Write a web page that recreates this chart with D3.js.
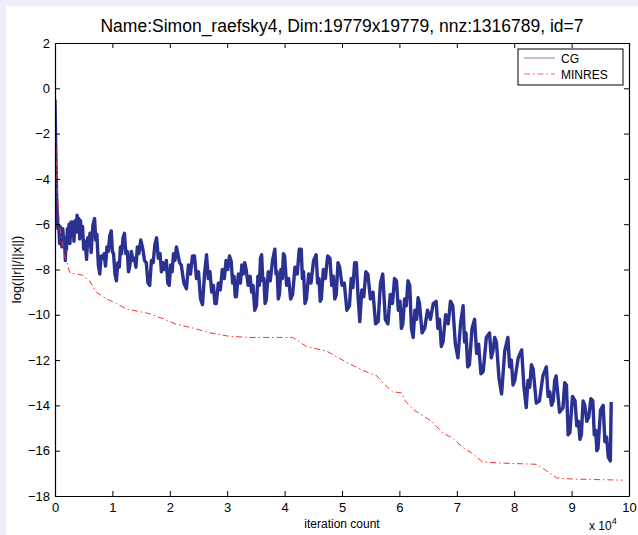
<!DOCTYPE html>
<html>
<head>
<meta charset="utf-8">
<script src="https://cdn.jsdelivr.net/npm/d3@7"></script>
<style>
  body { margin: 0; background: #efeffb; }
  svg text { font-family: "Liberation Sans", Arial, sans-serif; fill: #000; }
</style>
</head>
<body>
<div id="chart"></div>
<script>
// Chart title and axis labels
const chartTitle = "Name:Simon_raefsky4, Dim:19779x19779, nnz:1316789, id=7";
const xLabel = "iteration count";
const yLabel = "log(||r||/||x||)";
const seriesNames = ["CG", "MINRES"];

// Tick values
const xTicks = [0, 1, 2, 3, 4, 5, 6, 7, 8, 9, 10];
const yTicks = [2, 0, -2, -4, -6, -8, -10, -12, -14, -16, -18];

// CG residual: [iteration (thousands), log residual]
const cgResidual = [
  [0, -0.5], [0.15, -3.0], [0.3, -5.0], [0.5, -6.2], [0.65, -6.05], [0.8, -6.85], [0.9, -6.1], [1.0, -6.6],
  [1.1, -6.2], [1.2, -7.0], [1.35, -6.2], [1.5, -6.75], [1.65, -6.6], [1.8, -7.6], [1.9, -6.8], [2.0, -7.1],
  [2.15, -6.2], [2.3, -6.5], [2.45, -6.0], [2.6, -6.85], [2.8, -5.9], [3.0, -6.35], [3.15, -5.9], [3.3, -6.75],
  [3.5, -5.85], [3.7, -6.35], [3.85, -5.6], [4.0, -6.15], [4.15, -5.75], [4.3, -6.65], [4.45, -5.85], [4.6, -6.4],
  [4.8, -6.1], [5.0, -7.1], [5.25, -6.75], [5.5, -7.55], [5.7, -6.6], [5.9, -6.95], [6.1, -6.4], [6.3, -7.25],
  [6.6, -6.05], [6.9, -5.75], [7.1, -6.7], [7.3, -6.45], [7.55, -7.8], [7.8, -8.2], [8.05, -7.4], [8.3, -7.5],
  [8.55, -7.3], [8.8, -7.85], [9.05, -7.0], [9.3, -7.2], [9.55, -6.5], [9.8, -6.3], [10.0, -7.2], [10.2, -7.3],
  [10.45, -8.2], [10.7, -8.5], [10.95, -7.7], [11.2, -7.9], [11.4, -7.0], [11.6, -7.3], [11.85, -6.6], [12.1, -6.4],
  [12.35, -7.3], [12.6, -7.2], [12.8, -8.1], [13.0, -7.9], [13.3, -7.2], [13.6, -7.6], [13.85, -7.5], [14.1, -7.9],
  [14.35, -7.0], [14.6, -7.3], [14.95, -6.7], [15.3, -7.1], [15.6, -7.6], [15.9, -7.7], [16.2, -8.6], [16.5, -8.7],
  [16.8, -7.6], [17.1, -7.7], [17.4, -6.9], [17.7, -6.6], [18.0, -7.5], [18.3, -7.3], [18.55, -8.1], [18.8, -7.7],
  [19.1, -8.0], [19.4, -7.6], [19.65, -8.6], [19.9, -8.7], [20.15, -7.8], [20.4, -8.1], [20.65, -7.3], [20.9, -7.6],
  [21.15, -7.0], [21.4, -7.3], [21.7, -7.7], [22.0, -7.8], [22.45, -8.6], [22.9, -8.85], [23.25, -7.8], [23.6, -8.2],
  [23.95, -7.4], [24.3, -7.4], [24.65, -8.4], [25.0, -8.1], [25.35, -9.3], [25.7, -9.55], [26.05, -8.2], [26.4, -7.35],
  [26.7, -8.4], [27.0, -8.1], [27.3, -9.0], [27.6, -8.7], [27.85, -9.5], [28.1, -9.5], [28.45, -8.6], [28.8, -8.9],
  [29.15, -8.0], [29.5, -8.4], [29.8, -7.6], [30.1, -8.0], [30.4, -7.4], [30.7, -7.65], [30.95, -8.6], [31.2, -8.3],
  [31.4, -9.2], [31.6, -9.2], [31.95, -8.2], [32.3, -8.6], [32.55, -7.8], [32.8, -8.2], [33.05, -7.7], [33.3, -8.0],
  [33.65, -8.7], [34.0, -8.3], [34.25, -9.0], [34.5, -8.7], [34.8, -9.8], [35.1, -9.6], [35.35, -8.3], [35.6, -8.7],
  [35.8, -7.5], [36.0, -7.35], [36.2, -8.5], [36.4, -8.4], [36.6, -9.5], [36.8, -9.35], [37.15, -8.1], [37.5, -8.5],
  [37.9, -7.6], [38.3, -7.1], [38.5, -8.2], [38.7, -8.1], [38.9, -9.3], [39.1, -9.1], [39.35, -8.0], [39.6, -8.4],
  [39.8, -7.3], [40.0, -7.4], [40.35, -8.7], [40.7, -8.4], [41.05, -9.3], [41.4, -9.1], [41.8, -7.9], [42.2, -8.2],
  [42.55, -7.1], [42.9, -7.1], [43.1, -8.4], [43.3, -8.1], [43.55, -9.5], [43.8, -9.3], [44.2, -8.2], [44.6, -8.6],
  [45.05, -7.6], [45.5, -7.35], [45.75, -8.6], [46.0, -8.4], [46.2, -9.4], [46.4, -9.3], [46.75, -8.0], [47.1, -8.4],
  [47.5, -7.4], [47.9, -7.5], [48.2, -8.7], [48.5, -8.3], [48.75, -9.3], [49.0, -9.1], [49.3, -7.7], [49.6, -7.9],
  [50.0, -8.7], [50.4, -8.6], [50.85, -9.8], [51.3, -9.6], [51.6, -8.4], [51.9, -8.8], [52.2, -7.7], [52.5, -7.7],
  [52.8, -9.2], [53.1, -10.3], [53.45, -8.9], [53.8, -9.2], [54.15, -8.1], [54.5, -8.2], [54.95, -9.3], [55.4, -9.0],
  [55.85, -10.4], [56.3, -10.3], [56.7, -8.6], [57.1, -8.2], [57.55, -10.2], [58.0, -10.4], [58.4, -9.1], [58.8, -9.5],
  [59.15, -8.4], [59.5, -8.5], [59.8, -9.8], [60.1, -9.4], [60.35, -10.6], [60.6, -10.4], [60.9, -9.3], [61.2, -9.6],
  [61.5, -8.5], [61.8, -8.7], [62.1, -10.6], [62.4, -11.0], [62.7, -9.8], [63.0, -10.2], [63.25, -9.25], [63.5, -9.5],
  [63.95, -10.8], [64.4, -10.6], [64.9, -9.8], [65.4, -10.2], [65.9, -9.5], [66.4, -9.4], [66.7, -10.6], [67.0, -10.2],
  [67.3, -11.4], [67.6, -11.2], [68.05, -10.0], [68.5, -10.4], [68.9, -9.4], [69.3, -9.6], [69.75, -11.3], [70.2, -11.9],
  [70.65, -10.4], [71.1, -9.6], [71.35, -11.2], [71.6, -10.8], [71.9, -12.3], [72.2, -12.2], [72.65, -10.6], [73.1, -10.2],
  [73.45, -11.7], [73.8, -11.3], [74.2, -12.6], [74.6, -12.5], [75.15, -11.0], [75.7, -10.8], [76.0, -11.9], [76.3, -11.6],
  [76.6, -11.0], [76.9, -11.2], [77.35, -12.8], [77.8, -13.5], [78.35, -11.6], [78.9, -11.0], [79.2, -12.3], [79.5, -12.0],
  [79.8, -13.1], [80.1, -12.9], [80.7, -11.9], [81.3, -11.55], [81.7, -13.2], [82.1, -14.1], [82.4, -12.9], [82.7, -13.2],
  [83.0, -12.2], [83.3, -12.4], [83.85, -13.9], [84.4, -13.8], [85.0, -12.7], [85.6, -12.3], [85.9, -13.6], [86.2, -13.4],
  [86.5, -14.0], [86.8, -13.8], [87.05, -12.9], [87.3, -12.7], [87.9, -14.3], [88.5, -14.1], [88.8, -13.0], [89.1, -13.1],
  [89.4, -15.3], [89.7, -15.2], [90.15, -13.6], [90.6, -13.8], [90.9, -14.9], [91.2, -14.7], [91.45, -15.5], [91.7, -15.3],
  [92.0, -13.8], [92.3, -14.0], [92.65, -14.7], [93.0, -14.5], [93.35, -13.7], [93.7, -13.8], [93.95, -15.3], [94.2, -15.1],
  [94.4, -16.0], [94.6, -15.9], [95.05, -14.2], [95.5, -14.0], [95.8, -15.6], [96.1, -15.4], [96.4, -16.3], [96.75, -16.45],
  [96.9, -13.85]
];

// MINRES residual
const minresIter = [0, 0.1, 0.4, 0.8, 1.7, 2.6, 4.8, 6.0, 7.2, 9.0, 10.7, 12.5, 14.5, 16.5, 19.1, 20.9, 24.3, 27.0, 30.4, 33.9,
  41.4, 43.8, 47.3, 50.8, 53.6, 56.1, 57.1, 58.8, 60.4, 61.0, 62.5, 65.6, 67.5, 69.3, 71.0, 72.6, 74.5, 78.0, 83.9, 85.7,
  87.4, 90.0, 98.9];
const minresLog = [-0.8, -2.3, -4.5, -6.1, -7.4, -8.15, -8.25, -8.5, -9.0, -9.3, -9.5, -9.75, -9.85, -9.95, -10.2, -10.4, -10.6, -10.8, -10.95, -11.0,
  -11.0, -11.4, -11.6, -12.1, -12.45, -12.7, -13.0, -13.4, -13.45, -13.8, -14.2, -14.7, -15.2, -15.45, -15.85, -16.1, -16.5, -16.55, -16.6, -16.9,
  -17.2, -17.25, -17.3];

let width = 638;
let height = 535;
let margin = { left: 55, right: 9, top: 43, bottom: 39 };

let svg = d3.select("#chart")
  .append("svg")
  .attr("width", width)
  .attr("height", height);

// figure background
svg.append("rect")
  .attr("x", 6).attr("y", 6)
  .attr("width", width - 6).attr("height", height - 6)
  .style("fill", "white");

let xScale = d3.scaleLinear()
  .domain([0, 10])
  .range([margin.left, width - margin.right]);

let yScale = d3.scaleLinear()
  .domain([-18, 2])
  .range([height - margin.bottom, margin.top]);

let x0 = xScale.range()[0], x1 = xScale.range()[1];
let y0 = yScale.range()[0], y1 = yScale.range()[1];

svg.append("clipPath").attr("id", "plotClip")
  .append("rect")
  .attr("x", x0).attr("y", y1)
  .attr("width", x1 - x0).attr("height", y0 - y1);

let plot = svg.append("g").attr("clip-path", "url(#plotClip)");

// iterations are stored in thousands, axis is in units of 10^4
let line = d3.line()
  .x(d => xScale(d[0] / 10))
  .y(d => yScale(d[1]));

// CG line (dense oscillation gives the thick band look)
plot.append("path")
  .datum(cgResidual)
  .attr("d", line)
  .style("fill", "none")
  .style("stroke", "#2b3190")
  .style("stroke-width", 3.4)
  .style("stroke-linejoin", "round");

// MINRES line, dash-dot
plot.append("path")
  .datum(minresIter.map((d, i) => [d, minresLog[i]]))
  .attr("d", line)
  .style("fill", "none")
  .style("stroke", "#ff3030")
  .style("stroke-width", 1)
  .style("stroke-dasharray", "6,3,1.5,3");

// Axes: bottom, left, plus the mirrored top/right ticks
let minus = d => (d < 0 ? "\u2212" + Math.abs(d) : String(d));

let xAxis = svg.append("g")
  .attr("transform", `translate(0, ${y0})`)
  .call(d3.axisBottom(xScale).tickValues(xTicks).tickSizeInner(-5).tickSizeOuter(0).tickPadding(7));
let yAxis = svg.append("g")
  .attr("transform", `translate(${x0}, 0)`)
  .call(d3.axisLeft(yScale).tickValues(yTicks).tickFormat(minus).tickSizeInner(-5).tickSizeOuter(0).tickPadding(5));
let xTop = svg.append("g")
  .attr("transform", `translate(0, ${y1})`)
  .call(d3.axisTop(xScale).tickValues(xTicks).tickSizeInner(-5).tickSizeOuter(0).tickFormat(""));
let yRight = svg.append("g")
  .attr("transform", `translate(${x1}, 0)`)
  .call(d3.axisRight(yScale).tickValues(yTicks).tickSizeInner(-5).tickSizeOuter(0).tickFormat(""));

[xAxis, yAxis, xTop, yRight].forEach(g => {
  g.selectAll(".domain").attr("stroke", "#000").attr("stroke-width", 1.2);
  g.selectAll(".tick line").attr("stroke", "#000");
  g.selectAll(".tick text").style("font-size", "13px").attr("fill", "#000");
});

// title
svg.append("text")
  .attr("x", (x0 + x1) / 2)
  .attr("y", 32)
  .style("text-anchor", "middle")
  .style("font-size", "17.5px")
  .text(chartTitle);

// x label
svg.append("text")
  .attr("x", (x0 + x1) / 2)
  .attr("y", 528)
  .style("text-anchor", "middle")
  .style("font-size", "12px")
  .text(xLabel);

// exponent note
let expo = svg.append("text")
  .attr("x", 589)
  .attr("y", 530)
  .style("font-size", "12px")
  .text("x 10");
expo.append("tspan")
  .attr("dy", -6)
  .style("font-size", "9px")
  .text("4");

// y label
svg.append("text")
  .attr("transform", `translate(21, ${(y0 + y1) / 2}) rotate(-90)`)
  .style("text-anchor", "middle")
  .style("font-size", "13px")
  .text(yLabel);

// legend
let legend = svg.append("g");
legend.append("rect")
  .attr("x", 518).attr("y", 49)
  .attr("width", 105).attr("height", 36)
  .style("fill", "white")
  .style("stroke", "#000")
  .style("stroke-width", 1);

let legendStyles = [
  { stroke: "#7c80c4", dash: null },
  { stroke: "#ff6060", dash: "6,3,1.5,3" }
];
seriesNames.forEach((name, i) => {
  let ly = 58 + i * 16;
  legend.append("line")
    .attr("x1", 524).attr("x2", 555)
    .attr("y1", ly).attr("y2", ly)
    .style("stroke", legendStyles[i].stroke)
    .style("stroke-width", 1)
    .style("stroke-dasharray", legendStyles[i].dash);
  legend.append("text")
    .attr("x", 561).attr("y", ly + 4.5)
    .style("font-size", "12px")
    .text(name);
});
</script>
</body>
</html>
